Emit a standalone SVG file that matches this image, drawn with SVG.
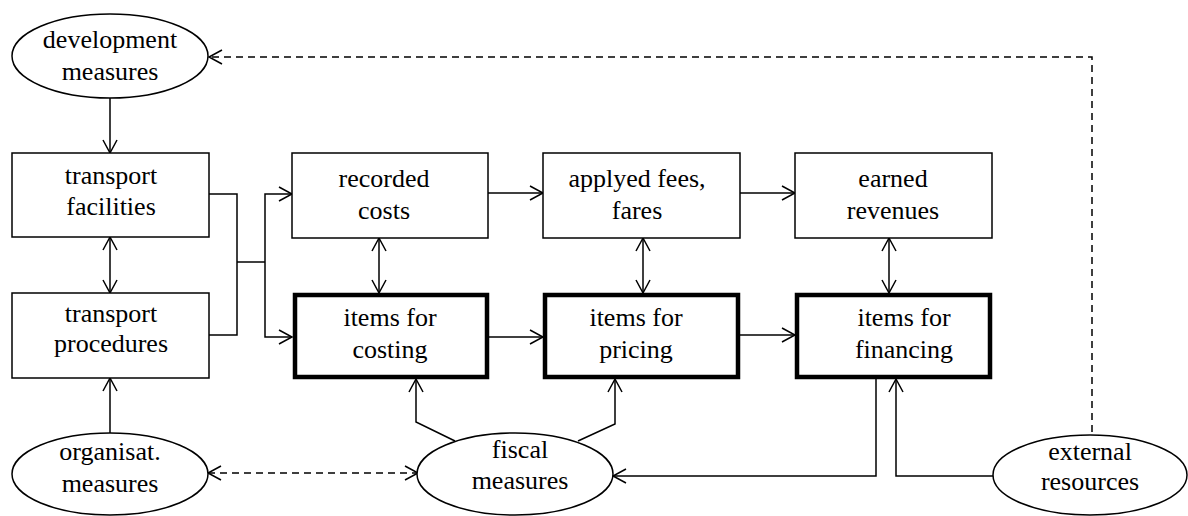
<svg xmlns="http://www.w3.org/2000/svg" width="1188" height="516" viewBox="0 0 1188 516">
  <defs>
    <style>
      .box { fill: #fff; stroke: #000; stroke-width: 1.5; }
      .key { fill: #fff; stroke: #000; stroke-width: 4.5; }
      .oval { fill: #fff; stroke: #000; stroke-width: 1.5; }
      .lbl { font-family: 'Liberation Serif', 'DejaVu Serif', 'Times New Roman', Times, serif; font-size: 26px; fill: #000; text-anchor: middle; }
      .wire { fill: none; stroke: #000; stroke-width: 1.5; }
      .dash { fill: none; stroke: #000; stroke-width: 1.5; stroke-dasharray: 7 5; }
    </style>
    <marker id="head" markerUnits="userSpaceOnUse" markerWidth="20" markerHeight="20" viewBox="-15 -10 17 20" refX="0" refY="0" orient="auto-start-reverse">
      <path d="M -13 -7 L 0 0 L -13 7" fill="none" stroke="#000" stroke-width="1.5"/>
    </marker>
  </defs>

  <rect width="1188" height="516" fill="#fff"/>

  <!-- connectors -->
  <g id="connectors">
    <!-- development measures -> transport facilities -->
    <line class="wire" x1="110" y1="98" x2="110" y2="153" marker-end="url(#head)"/>
    <!-- facilities <-> procedures -->
    <line class="wire" x1="110" y1="237" x2="110" y2="293" marker-start="url(#head)" marker-end="url(#head)"/>
    <!-- organisat. measures -> procedures -->
    <line class="wire" x1="110" y1="433" x2="110" y2="378" marker-end="url(#head)"/>
    <!-- bracket joining both transport boxes -->
    <polyline class="wire" points="209,194 237,194 237,335 209,335"/>
    <line class="wire" x1="237" y1="262" x2="265" y2="262"/>
    <polyline class="wire" points="292,194 265,194 265,337 292,337" marker-start="url(#head)" marker-end="url(#head)"/>
    <!-- top row flow -->
    <line class="wire" x1="488" y1="193" x2="543" y2="193" marker-end="url(#head)"/>
    <line class="wire" x1="740" y1="193" x2="795" y2="193" marker-end="url(#head)"/>
    <!-- bottom row flow -->
    <line class="wire" x1="489" y1="337" x2="543" y2="337" marker-end="url(#head)"/>
    <line class="wire" x1="740" y1="335" x2="795" y2="335" marker-end="url(#head)"/>
    <!-- vertical pairs -->
    <line class="wire" x1="379" y1="238" x2="379" y2="293" marker-start="url(#head)" marker-end="url(#head)"/>
    <line class="wire" x1="643" y1="238" x2="643" y2="293" marker-start="url(#head)" marker-end="url(#head)"/>
    <line class="wire" x1="889" y1="238" x2="889" y2="293" marker-start="url(#head)" marker-end="url(#head)"/>
    <!-- fiscal measures -> costing / pricing -->
    <polyline class="wire" points="455,441 416,422 416,379" marker-end="url(#head)"/>
    <polyline class="wire" points="578,441 615,424 615,379" marker-end="url(#head)"/>
    <!-- financing -> fiscal measures -->
    <polyline class="wire" points="876,379 876,476 613,476" marker-end="url(#head)"/>
    <!-- external resources -> financing -->
    <polyline class="wire" points="993,476 896,476 896,379" marker-end="url(#head)"/>
    <!-- organisat. <-> fiscal (dashed) -->
    <line class="dash" x1="208" y1="473" x2="418" y2="473" marker-start="url(#head)" marker-end="url(#head)"/>
    <!-- external resources -> development measures (dashed) -->
    <polyline class="dash" points="1092,432 1092,57 209,57" marker-end="url(#head)"/>
  </g>

  <g id="development-measures">
    <ellipse class="oval" cx="110" cy="56" rx="98" ry="42"/>
    <text class="lbl" font-family="Liberation Serif" x="110" y="48">development</text>
    <text class="lbl" font-family="Liberation Serif" x="110" y="80">measures</text>
  </g>

  <g id="transport-facilities">
    <rect class="box" x="12" y="153" width="197" height="84"/>
    <text class="lbl" x="111" y="184">transport</text>
    <text class="lbl" x="111" y="215">facilities</text>
  </g>

  <g id="transport-procedures">
    <rect class="box" x="12" y="293" width="197" height="85"/>
    <text class="lbl" x="111" y="322">transport</text>
    <text class="lbl" x="111" y="352">procedures</text>
  </g>

  <g id="recorded-costs">
    <rect class="box" x="292" y="153" width="196" height="85"/>
    <text class="lbl" x="384" y="187">recorded</text>
    <text class="lbl" x="384" y="219">costs</text>
  </g>

  <g id="applyed-fees">
    <rect class="box" x="543" y="153" width="197" height="85"/>
    <text class="lbl" x="637" y="187">applyed fees,</text>
    <text class="lbl" x="637" y="219">fares</text>
  </g>

  <g id="earned-revenues">
    <rect class="box" x="795" y="153" width="197" height="85"/>
    <text class="lbl" x="893" y="187">earned</text>
    <text class="lbl" x="893" y="219">revenues</text>
  </g>

  <g id="items-for-costing">
    <rect class="key" x="295" y="295" width="192" height="82"/>
    <text class="lbl" x="390" y="326">items for</text>
    <text class="lbl" x="390" y="358">costing</text>
  </g>

  <g id="items-for-pricing">
    <rect class="key" x="545" y="295" width="193" height="82"/>
    <text class="lbl" x="636" y="326">items for</text>
    <text class="lbl" x="636" y="358">pricing</text>
  </g>

  <g id="items-for-financing">
    <rect class="key" x="797" y="295" width="193" height="82"/>
    <text class="lbl" x="904" y="326">items for</text>
    <text class="lbl" x="904" y="358">financing</text>
  </g>

  <g id="organisat-measures">
    <ellipse class="oval" cx="110" cy="474" rx="98" ry="41"/>
    <text class="lbl" x="110" y="460">organisat.</text>
    <text class="lbl" x="110" y="492">measures</text>
  </g>

  <g id="fiscal-measures">
    <ellipse class="oval" cx="515" cy="474" rx="98" ry="41"/>
    <text class="lbl" x="520" y="458">fiscal</text>
    <text class="lbl" x="520" y="489">measures</text>
  </g>

  <g id="external-resources">
    <ellipse class="oval" cx="1090" cy="475" rx="97" ry="40"/>
    <text class="lbl" x="1090" y="460">external</text>
    <text class="lbl" x="1090" y="490">resources</text>
  </g>
</svg>
